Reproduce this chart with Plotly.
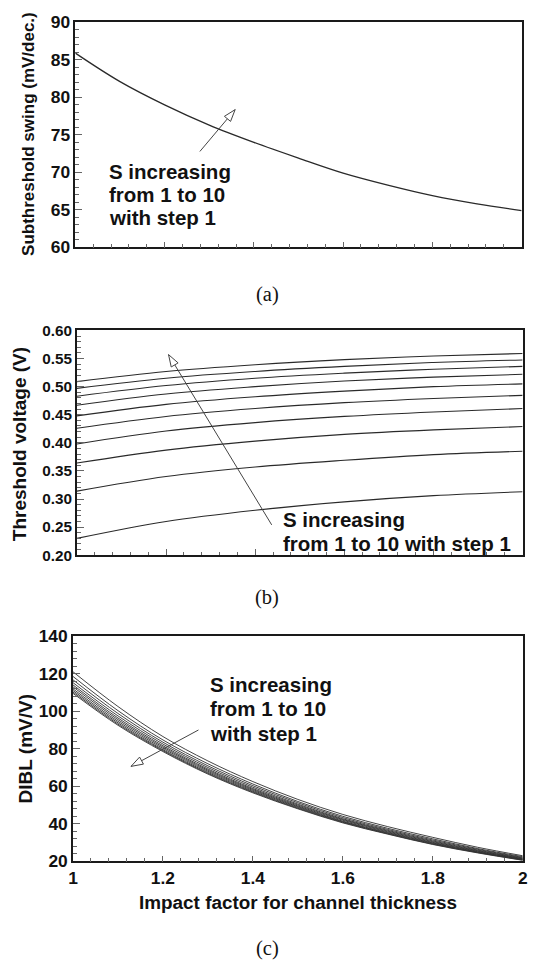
import math
import plotly.graph_objects as go

W, H = 534, 970

# ---------------- data ----------------
x_a = [1.0, 1.1, 1.2, 1.3, 1.4, 1.5, 1.6, 1.7, 1.8, 1.9, 2.0]
swing = [85.9, 82.1, 79.0, 76.3, 74.0, 71.9, 69.9, 68.3, 66.9, 65.8, 64.9]

x_b = [1.0, 1.2, 1.4, 1.6, 1.8, 2.0]
vth_s1 = [0.230, 0.260, 0.280, 0.295, 0.306, 0.313]
vth_s2 = [0.314, 0.340, 0.357, 0.369, 0.379, 0.385]
vth_s3 = [0.364, 0.387, 0.403, 0.415, 0.423, 0.429]
vth_s4 = [0.398, 0.421, 0.436, 0.447, 0.455, 0.461]
vth_s5 = [0.426, 0.447, 0.461, 0.4715, 0.479, 0.4845]
vth_s6 = [0.448, 0.4685, 0.482, 0.492, 0.500, 0.505]
vth_s7 = [0.467, 0.487, 0.500, 0.510, 0.517, 0.522]
vth_s8 = [0.483, 0.502, 0.515, 0.524, 0.531, 0.536]
vth_s9 = [0.497, 0.515, 0.527, 0.536, 0.543, 0.5475]
vth_s10 = [0.509, 0.527, 0.539, 0.548, 0.5545, 0.559]
vth_all = [vth_s1, vth_s2, vth_s3, vth_s4, vth_s5, vth_s6, vth_s7, vth_s8, vth_s9, vth_s10]

x_c = [1.0, 1.1, 1.2, 1.3, 1.4, 1.5, 1.6, 1.7, 1.8, 1.9, 2.0]
dibl_s1 = [121.0, 102.5, 86.5, 73.5, 62.5, 53.0, 45.0, 38.5, 32.8, 27.5, 23.0]
dibl_s2 = [118.5, 100.3, 84.7, 72.0, 61.2, 51.9, 44.0, 37.6, 32.0, 26.8, 22.5]
dibl_s3 = [116.7, 98.8, 83.5, 70.9, 60.3, 51.2, 43.3, 37.0, 31.4, 26.4, 22.1]
dibl_s4 = [115.2, 97.5, 82.5, 70.0, 59.5, 50.5, 42.7, 36.5, 30.9, 26.0, 21.8]
dibl_s5 = [114.0, 96.4, 81.6, 69.2, 58.8, 50.0, 42.3, 36.1, 30.5, 25.7, 21.5]
dibl_s6 = [113.0, 95.5, 80.9, 68.6, 58.3, 49.5, 41.9, 35.7, 30.1, 25.4, 21.3]
dibl_s7 = [111.9, 94.6, 80.2, 68.0, 57.8, 49.1, 41.4, 35.3, 29.8, 25.1, 21.1]
dibl_s8 = [111.0, 93.8, 79.5, 67.4, 57.3, 48.7, 41.1, 35.0, 29.5, 24.9, 20.9]
dibl_s9 = [110.2, 93.1, 79.0, 66.9, 56.9, 48.3, 40.8, 34.7, 29.2, 24.7, 20.7]
dibl_s10 = [109.5, 92.5, 78.5, 66.5, 56.5, 48.0, 40.5, 34.5, 29.0, 24.5, 20.6]
dibl_all = [dibl_s1, dibl_s2, dibl_s3, dibl_s4, dibl_s5, dibl_s6, dibl_s7, dibl_s8, dibl_s9, dibl_s10]

x_ticks = [1, 1.2, 1.4, 1.6, 1.8, 2]
x_ticklabels = ["1", "1.2", "1.4", "1.6", "1.8", "2"]

# ---------------- figure ----------------
def px_x(p):
    return p / W

def px_y(p):
    return 1 - p / H

LINE = "#2a2a2a"
fig = go.Figure()

fig.add_trace(go.Scatter(x=x_a, y=swing, mode="lines", line=dict(color=LINE, width=1.3, shape="spline"),
                         xaxis="x", yaxis="y", showlegend=False))
for v in vth_all:
    fig.add_trace(go.Scatter(x=x_b, y=v, mode="lines", line=dict(color=LINE, width=1.1, shape="spline"),
                             xaxis="x2", yaxis="y2", showlegend=False))
for d in dibl_all:
    fig.add_trace(go.Scatter(x=x_c, y=d, mode="lines", line=dict(color="#303030", width=0.9, shape="spline"),
                             xaxis="x3", yaxis="y3", showlegend=False))

FONT = "Liberation Sans, Arial, sans-serif"
axis_common = dict(showline=True, mirror=True, linecolor="#1a1a1a", linewidth=1.6,
                   showgrid=False, zeroline=False, ticks="inside", tickcolor="#666",
                   tickwidth=1.2)

def xaxis(domain, anchor, labels):
    d = dict(axis_common)
    d.update(domain=domain, anchor=anchor, range=[1, 2], tickmode="array",
             tickvals=x_ticks, ticktext=x_ticklabels, ticklen=6,
             minor=dict(ticks="inside", dtick=0.04, ticklen=3.5, tickcolor="#666", tickwidth=1),
             showticklabels=labels,
             tickfont=dict(family=FONT, size=17.4, color="#111", weight="bold"))
    return d

def yaxis(domain, anchor, rng, dtick, mdtick, fmt, fsize):
    d = dict(axis_common)
    d.update(domain=domain, anchor=anchor, range=rng, dtick=dtick, tick0=rng[0], ticklen=7,
             tickformat=fmt,
             minor=dict(ticks="inside", dtick=mdtick, ticklen=4, tickcolor="#666", tickwidth=1),
             tickfont=dict(family=FONT, size=fsize, color="#111", weight="bold"))
    return d

fig.update_layout(
    width=W, height=H, margin=dict(l=0, r=0, t=0, b=0),
    paper_bgcolor="white", plot_bgcolor="white", showlegend=False,
    xaxis=xaxis([71.7 / W, 526.5 / W], "y", False),
    yaxis=yaxis([px_y(242.3), px_y(12.6)], "x", [60, 90], 5, 1, "d", 17.4),
    xaxis2=xaxis([73.3 / W, 527.5 / W], "y2", False),
    yaxis2=yaxis([px_y(556.7), px_y(327.2)], "x2", [0.2, 0.6], 0.05, 0.01, ".2f", 15.3),
    xaxis3=xaxis([69.3 / W, 527.6 / W], "y3", True),
    yaxis3=yaxis([px_y(869.3), px_y(639.3)], "x3", [20, 140], 20, 4, "d", 17.4),
)

anns = []

def title(text, x, y, size, angle):
    anns.append(dict(text=text, x=px_x(x), y=px_y(y), xref="paper", yref="paper",
                     showarrow=False, textangle=angle, xanchor="center", yanchor="middle",
                     font=dict(family=FONT, size=size, color="#111", weight="bold")))

title("Subthreshold swing (mV/dec.)", 24, 127, 17, -90)
title("Threshold voltage (V)", 15.6, 443, 19, -90)
title("DIBL (mV/V)", 20.4, 755, 19, -90)
title("Impact factor for channel thickness", 298.6, 911.7, 18.9, 0)

for cap, cy in [("(a)", 290), ("(b)", 600), ("(c)", 958)]:
    anns.append(dict(text=cap, x=px_x(267.5), y=px_y(cy), xref="paper", yref="paper",
                     showarrow=False, xanchor="center", yanchor="middle",
                     font=dict(family="Liberation Serif, Times New Roman, serif", size=20.5, color="#111")))

def note(lines, left, centers):
    for t, cy in zip(lines, centers):
        anns.append(dict(text=t, x=px_x(left), y=px_y(cy), xref="paper", yref="paper",
                         showarrow=False, xanchor="left", yanchor="middle",
                         font=dict(family=FONT, size=20.5, color="#111", weight="bold")))

note(["S increasing", "from 1 to 10", "with step 1"], 103.8, [165, 188.3, 211.7])
note(["S increasing", "from 1 to 10 with step 1"], 280.8, [520, 544.3])
note(["S increasing", "from 1 to 10", "with step 1"], 206.6, [688.3, 713.3, 738.3])

fig.update_layout(annotations=anns)

shapes = []

def arrow(xr, yr, tip, tail, screen_dir, head_len=12.0, half_w=4.0):
    ux, uy = screen_dir[0], -screen_dir[1]
    nx, ny = -uy, ux
    bx, by = -head_len * ux, -head_len * uy
    p1 = (bx + half_w * nx, by + half_w * ny)
    p2 = (bx - half_w * nx, by - half_w * ny)
    shapes.append(dict(type="line", xref=xr, yref=yr, x0=tail[0], y0=tail[1], x1=tip[0], y1=tip[1],
                       line=dict(color="#444", width=1), layer="above"))
    shapes.append(dict(type="path", xref=xr, yref=yr, xsizemode="pixel", ysizemode="pixel",
                       xanchor=tip[0], yanchor=tip[1],
                       path=f"M 0 0 L {p1[0]:.2f} {p1[1]:.2f} L {p2[0]:.2f} {p2[1]:.2f} Z",
                       fillcolor="white", line=dict(color="#444", width=1), layer="above"))

arrow("x", "y", (1.358, 78.36), (1.279, 72.78), (0.637, -0.770))
arrow("x2", "y2", (1.2056, 0.557), (1.437, 0.254), (-0.509, -0.861))
arrow("x3", "y3", (1.129, 70.6), (1.279, 90.0), (-0.876, 0.483))

fig.update_layout(shapes=shapes)
fig.write_html("out.html", config={"displayModeBar": False},
               post_script="document.body.style.margin='0';")
